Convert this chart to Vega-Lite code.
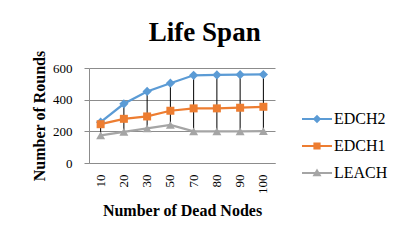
{
  "$schema": "https://vega.github.io/schema/vega-lite/v6.json",
  "width": 186,
  "height": 95,
  "padding": {"left": 31, "top": 19, "right": 5, "bottom": 5},
  "background": "white",
  "title": {
    "text": "Life Span",
    "font": "Liberation Serif",
    "fontSize": 27,
    "fontWeight": "bold",
    "color": "black",
    "anchor": "middle",
    "frame": "bounds",
    "offset": 3,
    "dx": -5
  },
  "data": {
    "values": [
      {"nodes": "10", "series": "EDCH2", "rounds": 258},
      {"nodes": "20", "series": "EDCH2", "rounds": 374},
      {"nodes": "30", "series": "EDCH2", "rounds": 452},
      {"nodes": "50", "series": "EDCH2", "rounds": 504},
      {"nodes": "70", "series": "EDCH2", "rounds": 554},
      {"nodes": "80", "series": "EDCH2", "rounds": 556},
      {"nodes": "90", "series": "EDCH2", "rounds": 558},
      {"nodes": "100", "series": "EDCH2", "rounds": 559},
      {"nodes": "10", "series": "EDCH1", "rounds": 245},
      {"nodes": "20", "series": "EDCH1", "rounds": 279},
      {"nodes": "30", "series": "EDCH1", "rounds": 294},
      {"nodes": "50", "series": "EDCH1", "rounds": 330},
      {"nodes": "70", "series": "EDCH1", "rounds": 345},
      {"nodes": "80", "series": "EDCH1", "rounds": 345},
      {"nodes": "90", "series": "EDCH1", "rounds": 349},
      {"nodes": "100", "series": "EDCH1", "rounds": 355},
      {"nodes": "10", "series": "LEACH", "rounds": 175},
      {"nodes": "20", "series": "LEACH", "rounds": 196},
      {"nodes": "30", "series": "LEACH", "rounds": 218},
      {"nodes": "50", "series": "LEACH", "rounds": 240},
      {"nodes": "70", "series": "LEACH", "rounds": 200},
      {"nodes": "80", "series": "LEACH", "rounds": 199},
      {"nodes": "90", "series": "LEACH", "rounds": 199},
      {"nodes": "100", "series": "LEACH", "rounds": 201}
    ]
  },
  "encoding": {
    "x": {
      "field": "nodes",
      "type": "ordinal",
      "sort": ["10", "20", "30", "50", "70", "80", "90", "100"],
      "scale": {"paddingInner": 0, "paddingOuter": 0},
      "axis": {
        "title": "Number of Dead Nodes",
        "labelAngle": 270,
        "labelFont": "Liberation Serif",
        "labelFontSize": 13,
        "labelColor": "black",
        "labelPadding": 11,
        "ticks": false,
        "domain": true,
        "domainColor": "#8c8c8c",
        "domainWidth": 1,
        "grid": false,
        "titleFont": "Liberation Serif",
        "titleFontSize": 16,
        "titleFontWeight": "bold",
        "titleColor": "black",
        "titlePadding": 9
      }
    },
    "y": {
      "field": "rounds",
      "type": "quantitative",
      "scale": {"domain": [0, 600]},
      "axis": {
        "title": "Number of Rounds",
        "values": [0, 200, 400, 600],
        "labelOverlap": false,
        "labelFont": "Liberation Serif",
        "labelFontSize": 13,
        "labelColor": "black",
        "labelPadding": 12,
        "tickSize": 5,
        "tickColor": "#8c8c8c",
        "domain": true,
        "domainColor": "#8c8c8c",
        "grid": true,
        "gridColor": "#8c8c8c",
        "gridOpacity": 1,
        "titleFont": "Liberation Serif",
        "titleFontSize": 16,
        "titleFontWeight": "bold",
        "titleColor": "black",
        "titlePadding": 5
      }
    }
  },
  "layer": [
    {
      "mark": {"type": "point", "filled": true, "opacity": 0, "size": 400},
      "encoding": {
        "color": {
          "field": "series",
          "type": "nominal",
          "scale": {"domain": ["EDCH2", "EDCH1", "LEACH"], "range": ["#5B9BD5", "#ED7D31", "#A5A5A5"]},
          "legend": {
            "title": null,
            "labelFont": "Liberation Serif",
            "labelFontSize": 16,
            "labelColor": "black"
          }
        },
        "shape": {
          "field": "series",
          "type": "nominal",
          "scale": {"domain": ["EDCH2", "EDCH1", "LEACH"], "range": [
            "M-1.5,-0.1H1.5V0.1H-1.5Z M0,-0.42L0.42,0L0,0.42L-0.42,0Z",
            "M-1.5,-0.1H1.5V0.1H-1.5Z M-0.36,-0.36L0.36,-0.36L0.36,0.36L-0.36,0.36Z",
            "M-1.5,-0.1H1.5V0.1H-1.5Z M0,-0.45L0.45,0.33L-0.45,0.33Z"
          ]},
          "legend": {
            "title": null,
            "labelFont": "Liberation Serif",
            "labelFontSize": 16,
            "labelColor": "black"
          }
        }
      }
    },
    {
      "mark": {"type": "rule", "color": "black", "strokeWidth": 1},
      "encoding": {
        "y": {"aggregate": "min", "field": "rounds", "type": "quantitative", "scale": {"domain": [0, 600]},
          "axis": {
            "title": "Number of Rounds",
            "values": [0, 200, 400, 600],
            "labelOverlap": false,
            "labelFont": "Liberation Serif",
            "labelFontSize": 13,
            "labelColor": "black",
            "labelPadding": 12,
            "tickSize": 5,
            "tickColor": "#8c8c8c",
            "domain": true,
            "domainColor": "#8c8c8c",
            "grid": true,
            "gridColor": "#8c8c8c",
            "gridOpacity": 1,
            "titleFont": "Liberation Serif",
            "titleFontSize": 16,
            "titleFontWeight": "bold",
            "titleColor": "black",
            "titlePadding": 5
          }},
        "y2": {"aggregate": "max", "field": "rounds"}
      }
    },
    {
      "mark": {"type": "line", "strokeWidth": 2.25},
      "encoding": {
        "color": {
          "field": "series",
          "type": "nominal",
          "scale": {"domain": ["EDCH2", "EDCH1", "LEACH"], "range": ["#5B9BD5", "#ED7D31", "#A5A5A5"]},
          "legend": {
            "title": null,
            "labelFont": "Liberation Serif",
            "labelFontSize": 16,
            "labelColor": "black"
          }
        }
      }
    },
    {
      "transform": [{"filter": "datum.series === 'EDCH2'"}],
      "mark": {"type": "point", "filled": true, "opacity": 1, "size": 85, "shape": "diamond", "color": "#5B9BD5"},
      "encoding": {}
    },
    {
      "transform": [{"filter": "datum.series === 'EDCH1'"}],
      "mark": {"type": "point", "filled": true, "opacity": 1, "size": 64, "shape": "square", "color": "#ED7D31"},
      "encoding": {}
    },
    {
      "transform": [{"filter": "datum.series === 'LEACH'"}],
      "mark": {"type": "point", "filled": true, "opacity": 1, "size": 80, "shape": "triangle-up", "color": "#A5A5A5"},
      "encoding": {}
    }
  ],
  "config": {
    "view": {"stroke": null},
    "font": "Liberation Serif",
    "legend": {
      "orient": "none",
      "legendX": 218,
      "legendY": 41,
      "symbolSize": 400,
      "symbolOpacity": 1,
      "symbolStrokeWidth": 0,
      "labelFont": "Liberation Serif",
      "labelFontSize": 16,
      "labelColor": "black",
      "labelOffset": 7,
      "rowPadding": 9,
      "padding": 0
    }
  }
}
